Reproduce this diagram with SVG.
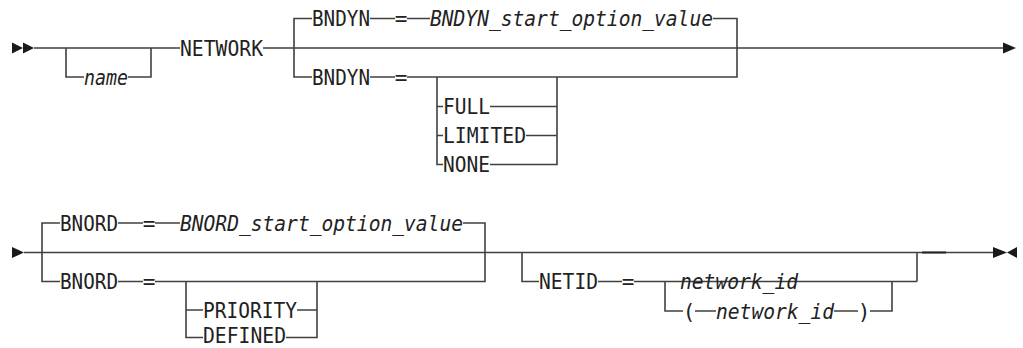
<svg xmlns="http://www.w3.org/2000/svg" width="1023" height="348" viewBox="0 0 1023 348">
<defs>
<style>
.ln{stroke:#404040;stroke-width:1.6;fill:none}
.ar{fill:#1a1a1a;stroke:none}
.t{font-family:"DejaVu Sans Mono","Liberation Mono",monospace;font-size:21px;fill:#222}
.i{font-style:italic}
</style>
</defs>
<rect width="1023" height="348" fill="#fff"/>
<g id="connectors">
<!-- row 1 -->
<polygon class="ar" points="12,42.5 23,48 12,53.5"/>
<polygon class="ar" points="23,42.5 34,48 23,53.5"/>
<path class="ln" d="M34,48H180 M263,48H1004"/>
<path class="ln" d="M66,48V77H84 M128,77H151V48"/>
<path class="ln" d="M312,18.5H294V77H312"/>
<path class="ln" d="M370,18.5H395 M407,18.5H430 M713,18.5H737V77H407 M370,77H395"/>
<path class="ln" d="M437,77V164.5H443 M437,106.5H443 M437,135.5H443"/>
<path class="ln" d="M490,106.5H557 M526,135.5H557 M490,164.5H557V77"/>
<polygon class="ar" points="1003,42.5 1016,48 1003,53.5"/>
<!-- row 2 -->
<polygon class="ar" points="12,247 24,252.5 12,258"/>
<path class="ln" d="M24,252.5H993"/>
<path class="ln" d="M60,223H42V281.5H60"/>
<path class="ln" d="M118,223H143 M155,223H180 M463,223H485V281.5H155 M118,281.5H143"/>
<path class="ln" d="M186,281.5V337.5H203 M186,310H203"/>
<path class="ln" d="M297,310H317 M286,337.5H317V281.5"/>
<path class="ln" d="M522,252.5V281.5H539 M598,281.5H622 M634,281.5H798 M917,252.5V281.5"/>
<path class="ln" d="M798,281.5H917"/>
<path class="ln" d="M665,281.5V311H683 M695,311H716 M834,311H858 M870,311H892V281.5"/>
<path d="M922,252.5H946" stroke="#222" stroke-width="2" fill="none"/>
<polygon class="ar" points="993,247 1007,252.5 993,258"/>
<polygon class="ar" points="1017,247 1007,252.5 1017,258"/>
</g>
<g id="node-name"><text class="t i" x="84" y="84.5" textLength="44" lengthAdjust="spacingAndGlyphs">name</text></g>
<g id="node-network"><text class="t" x="180" y="55.5" textLength="83" lengthAdjust="spacingAndGlyphs">NETWORK</text></g>
<g id="node-bndyn1"><text class="t" x="312" y="26" textLength="58" lengthAdjust="spacingAndGlyphs">BNDYN</text></g>
<g id="node-eq1"><text class="t" x="401" y="26" text-anchor="middle">=</text></g>
<g id="node-bndyn-value"><text class="t i" x="430" y="26" textLength="283" lengthAdjust="spacingAndGlyphs">BNDYN_start_option_value</text></g>
<g id="node-bndyn2"><text class="t" x="312" y="84.5" textLength="58" lengthAdjust="spacingAndGlyphs">BNDYN</text></g>
<g id="node-eq2"><text class="t" x="401" y="84.5" text-anchor="middle">=</text></g>
<g id="node-full"><text class="t" x="443" y="114" textLength="47" lengthAdjust="spacingAndGlyphs">FULL</text></g>
<g id="node-limited"><text class="t" x="443" y="143" textLength="83" lengthAdjust="spacingAndGlyphs">LIMITED</text></g>
<g id="node-none"><text class="t" x="443" y="172" textLength="47" lengthAdjust="spacingAndGlyphs">NONE</text></g>
<g id="node-bnord1"><text class="t" x="60" y="230.5" textLength="58" lengthAdjust="spacingAndGlyphs">BNORD</text></g>
<g id="node-eq3"><text class="t" x="149" y="230.5" text-anchor="middle">=</text></g>
<g id="node-bnord-value"><text class="t i" x="180" y="230.5" textLength="283" lengthAdjust="spacingAndGlyphs">BNORD_start_option_value</text></g>
<g id="node-bnord2"><text class="t" x="60" y="289" textLength="58" lengthAdjust="spacingAndGlyphs">BNORD</text></g>
<g id="node-eq4"><text class="t" x="149" y="289" text-anchor="middle">=</text></g>
<g id="node-priority"><text class="t" x="203" y="317.5" textLength="94" lengthAdjust="spacingAndGlyphs">PRIORITY</text></g>
<g id="node-defined"><text class="t" x="203" y="343" textLength="83" lengthAdjust="spacingAndGlyphs">DEFINED</text></g>
<g id="node-netid"><text class="t" x="539" y="289" textLength="59" lengthAdjust="spacingAndGlyphs">NETID</text></g>
<g id="node-eq5"><text class="t" x="628" y="289" text-anchor="middle">=</text></g>
<g id="node-network-id1"><text class="t i" x="680" y="289" textLength="118" lengthAdjust="spacingAndGlyphs">network_id</text></g>
<g id="node-lparen"><text class="t" x="689" y="318.5" text-anchor="middle">(</text></g>
<g id="node-network-id2"><text class="t i" x="716" y="318.5" textLength="118" lengthAdjust="spacingAndGlyphs">network_id</text></g>
<g id="node-rparen"><text class="t" x="864" y="318.5" text-anchor="middle">)</text></g>
</svg>
